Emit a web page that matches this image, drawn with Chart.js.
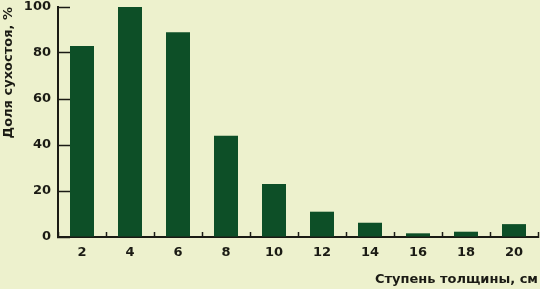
<!DOCTYPE html>
<html>
<head>
<meta charset="utf-8">
<script src="https://cdn.jsdelivr.net/npm/chart.js@4/dist/chart.umd.min.js"></script>
<style>
  html, body { margin: 0; padding: 0; background: #edf1cd; }
  #wrap { width: 540px; height: 289px; }
</style>
</head>
<body>
<div id="wrap"><canvas id="chart"></canvas></div>
<script>
  const categories = ["2", "4", "6", "8", "10", "12", "14", "16", "18", "20"];
  const shares = [83, 100, 89, 44, 23, 11, 6.2, 1.6, 2.3, 5.6];
  const yTitle = "Доля сухостоя, %";
  const xTitle = "Ступень толщины, см";

  const ink = "#1b1b14";
  const barColor = "#0d4f27";
  const font = { family: "'DejaVu Sans', sans-serif", size: 13, weight: "bold" };

  new Chart(document.getElementById("chart"), {
    type: "bar",
    data: {
      labels: categories,
      datasets: [{
        data: shares,
        backgroundColor: barColor,
        borderWidth: 0,
        barPercentage: 0.5,
        categoryPercentage: 1
      }]
    },
    options: {
      responsive: true,
      maintainAspectRatio: false,
      animation: false,
      layout: { padding: { top: 7, right: 2, left: 0, bottom: 0 } },
      plugins: { legend: { display: false }, tooltip: { enabled: false } },
      scales: {
        x: {
          offset: true,
          grid: { offset: true, drawOnChartArea: false, drawTicks: true, tickLength: -5, tickWidth: 1.5, tickColor: ink },
          border: { color: ink, width: 2 },
          ticks: { color: ink, font, padding: 13, maxRotation: 0 },
          title: { display: true, text: xTitle, align: "end", color: ink, font, padding: { top: 0, bottom: 2 } },
          afterFit: (scale) => { scale.height = 52; scale.paddingLeft = 0; scale.paddingRight = 0; }
        },
        y: {
          min: 0,
          max: 100,
          grid: { drawOnChartArea: false, drawTicks: true, tickLength: -12, tickWidth: 1.5, tickColor: ink },
          border: { color: ink, width: 2 },
          ticks: { stepSize: 20, color: ink, font, padding: 19 },
          title: { display: true, text: yTitle, align: "end", color: ink, font, padding: { top: 1, bottom: 0 } },
          afterFit: (scale) => { scale.width = 58; scale.paddingTop = 0; scale.paddingBottom = 0; }
        }
      }
    }
  });
</script>
</body>
</html>
